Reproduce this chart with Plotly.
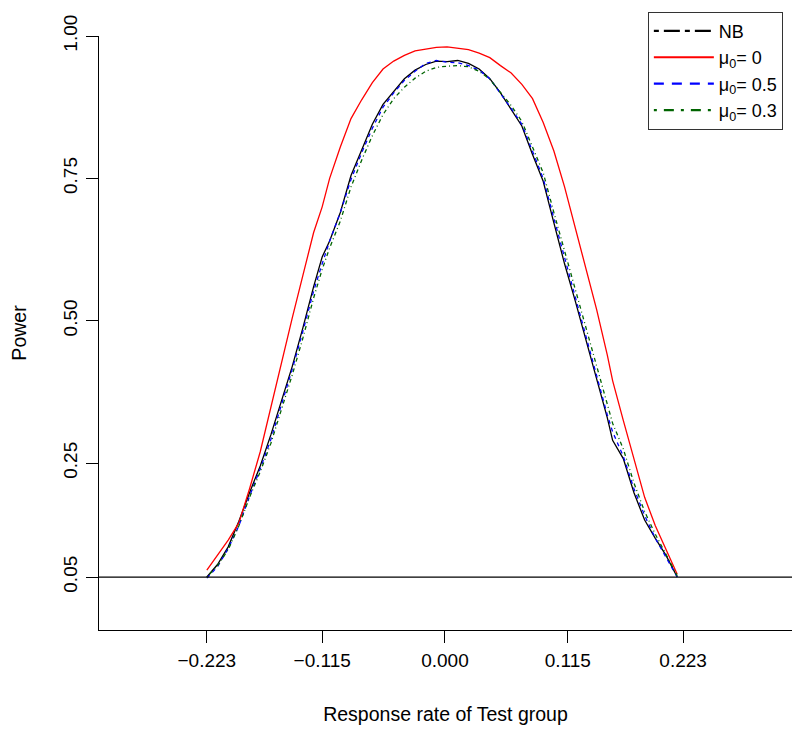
import plotly.graph_objects as go

# Response rate of Test group (x grid)
x_vals = [-0.223, -0.213, -0.203, -0.193, -0.183, -0.173, -0.163, -0.153, -0.143, -0.133,
          -0.123, -0.115, -0.108, -0.098, -0.088, -0.078, -0.068, -0.058, -0.048, -0.038,
          -0.028, -0.018, -0.008, 0.002, 0.012, 0.022, 0.032, 0.042, 0.052, 0.062,
          0.072, 0.082, 0.092, 0.102, 0.112, 0.122, 0.132, 0.142, 0.152, 0.157,
          0.167, 0.177, 0.187, 0.197, 0.207, 0.2175]

power_nb = [0.050, 0.072, 0.103, 0.148, 0.198, 0.245, 0.300, 0.360, 0.420, 0.488,
            0.560, 0.612, 0.640, 0.690, 0.755, 0.800, 0.845, 0.880, 0.902, 0.925,
            0.940, 0.950, 0.956, 0.955, 0.957, 0.952, 0.942, 0.925, 0.900, 0.872,
            0.842, 0.792, 0.745, 0.672, 0.600, 0.535, 0.468, 0.400, 0.330, 0.290,
            0.258, 0.198, 0.150, 0.118, 0.088, 0.050]

power_mu0_0 = [0.062, 0.088, 0.115, 0.145, 0.205, 0.270, 0.350, 0.425, 0.505, 0.580,
               0.655, 0.700, 0.750, 0.805, 0.855, 0.888, 0.918, 0.942, 0.956, 0.966,
               0.974, 0.977, 0.980, 0.981, 0.979, 0.976, 0.970, 0.962, 0.948, 0.935,
               0.915, 0.890, 0.848, 0.798, 0.735, 0.665, 0.595, 0.520, 0.440, 0.395,
               0.325, 0.255, 0.190, 0.140, 0.100, 0.055]

power_mu0_05 = [0.048, 0.068, 0.100, 0.140, 0.192, 0.240, 0.292, 0.352, 0.415, 0.482,
                0.552, 0.600, 0.640, 0.690, 0.748, 0.795, 0.838, 0.875, 0.900, 0.922,
                0.938, 0.952, 0.957, 0.954, 0.953, 0.948, 0.940, 0.925, 0.900, 0.873,
                0.845, 0.797, 0.750, 0.680, 0.610, 0.542, 0.475, 0.405, 0.335, 0.305,
                0.262, 0.205, 0.158, 0.118, 0.085, 0.050]

power_mu0_03 = [0.050, 0.070, 0.098, 0.140, 0.190, 0.235, 0.285, 0.345, 0.405, 0.470,
                0.540, 0.590, 0.628, 0.675, 0.735, 0.782, 0.825, 0.862, 0.890, 0.910,
                0.926, 0.938, 0.945, 0.947, 0.948, 0.946, 0.938, 0.924, 0.902, 0.878,
                0.850, 0.805, 0.760, 0.690, 0.622, 0.555, 0.490, 0.420, 0.352, 0.320,
                0.275, 0.215, 0.165, 0.125, 0.090, 0.052]

x_tick_vals = [-0.223, -0.115, 0.0, 0.115, 0.223]
x_tick_text = ["\u22120.223", "\u22120.115", "0.000", "0.115", "0.223"]
y_tick_vals = [0.05, 0.25, 0.50, 0.75, 1.00]
y_tick_text = ["0.05", "0.25", "0.50", "0.75", "1.00"]
alpha_level = 0.05

FONT = "Liberation Sans, Arial, Helvetica, sans-serif"

fig = go.Figure()

series = [
    ("NB", power_nb, "black", "solid", "5px,5px,16px,5px"),
    ("\u03bc<sub>0</sub>= 0", power_mu0_0, "#ff0000", "solid", "solid"),
    ("\u03bc<sub>0</sub>= 0.5", power_mu0_05, "#0000ff", "4px,4px", "10px,8px"),
    ("\u03bc<sub>0</sub>= 0.3", power_mu0_03, "#006400", "1px,3px,4px,3px", "3px,7px,10px,7px"),
]

for name, vals, col, dash, _ in series:
    fig.add_trace(go.Scatter(x=x_vals, y=vals, mode="lines", name=name,
                             line=dict(color=col, width=1.3, dash=dash),
                             showlegend=False, hoverinfo="skip"))

for name, vals, col, _, ldash in series:
    fig.add_trace(go.Scatter(x=[None], y=[None], mode="lines", name=name,
                             line=dict(color=col, width=2.2, dash=ldash),
                             showlegend=True))

fig.add_shape(type="line", xref="paper", x0=0, x1=1, yref="y", y0=alpha_level, y1=alpha_level,
              line=dict(color="black", width=1.2))

# page body adds an 8px offset; figure spans (8,8)-(800,734)
fig.update_layout(
    width=792, height=726,
    margin=dict(l=91, r=8, t=28, b=104, autoexpand=False),
    paper_bgcolor="white", plot_bgcolor="white",
    font=dict(family=FONT, size=18, color="black"),
    showlegend=True,
    legend=dict(x=0.792, xanchor="left", y=1.041, yanchor="top",
                bgcolor="white", bordercolor="#333333", borderwidth=1,
                font=dict(size=18), tracegroupgap=0, itemwidth=60),
    xaxis=dict(range=[-0.324, 0.325], showgrid=False, zeroline=False, automargin=False,
               showline=True, linecolor="black", linewidth=1.2,
               ticks="outside", ticklen=12, tickwidth=1.2, tickcolor="black",
               tickvals=x_tick_vals, ticktext=x_tick_text, tickfont=dict(size=19),
               ticklabelstandoff=1,
               title=dict(text="Response rate of Test group", standoff=37, font=dict(size=19.5))),
    yaxis=dict(range=[-0.043, 1.0], showgrid=False, zeroline=False, automargin=False,
               showline=True, linecolor="black", linewidth=1.2,
               ticks="outside", ticklen=12, tickwidth=1.2, tickcolor="black",
               tickvals=y_tick_vals, ticktext=y_tick_text, tickangle=-90, tickfont=dict(size=19),
               ticklabelstandoff=1,
               title=dict(text="Power", standoff=31, font=dict(size=19.5))),
)

fig.write_html("out.html")
